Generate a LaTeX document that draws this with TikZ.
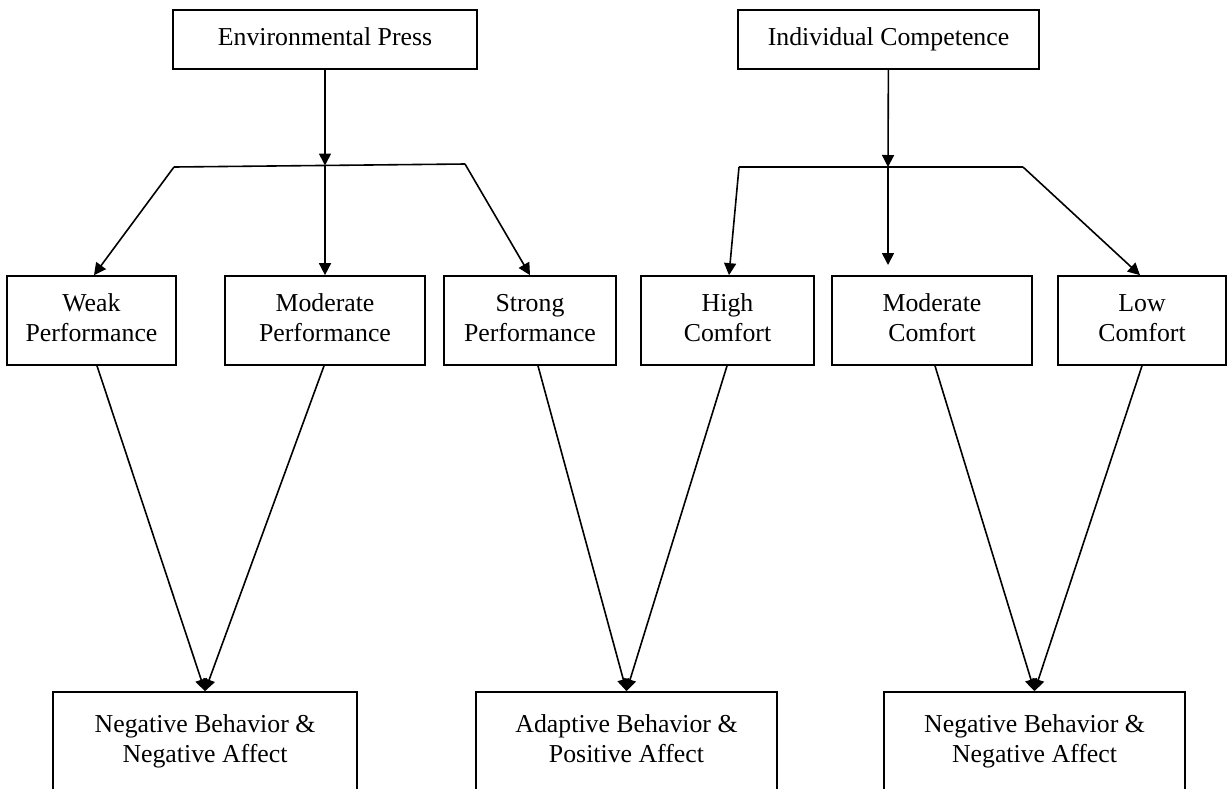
\documentclass[tikz,border=0pt]{standalone}
\usepackage{fontspec}
\setmainfont{Liberation Serif}
\usetikzlibrary{arrows.meta}
\newcommand{\bxline}[1]{\strut#1}
\begin{document}
\begin{tikzpicture}[x=1pt,y=-1pt,
  box/.style={draw, line width=1.7pt, align=center, inner sep=0pt,
              font=\fontsize{25.8}{30}\selectfont},
  headbox/.style={box, minimum height=59pt},
  rowbox/.style={box, minimum height=89pt},
  outbox/.style={box, minimum height=98pt},
  link/.style={line width=1.6pt},
  arr/.style={link, -{Triangle[length=12pt,width=12pt]}}]
\useasboundingbox (0,0) rectangle (1231,788);

% sources
\node[headbox, minimum width=304pt] (env) at (325,39.5) {\bxline{Environmental Press}};
\node[headbox, minimum width=301pt] (ind) at (888.5,39.5) {\bxline{Individual Competence}};

% middle row
\node[rowbox, minimum width=169pt] (weak)   at (91.5,320.5)  {\bxline{Weak}\\\bxline{Performance}};
\node[rowbox, minimum width=200pt] (modp)   at (325,320.5)   {\bxline{Moderate}\\\bxline{Performance}};
\node[rowbox, minimum width=172pt] (strong) at (530,320.5)   {\bxline{Strong}\\\bxline{Performance}};
\node[rowbox, minimum width=173pt] (high)   at (727.5,320.5) {\bxline{High}\\\bxline{Comfort}};
\node[rowbox, minimum width=200pt] (modc)   at (932,320.5)   {\bxline{Moderate}\\\bxline{Comfort}};
\node[rowbox, minimum width=168pt] (low)    at (1142,320.5)  {\bxline{Low}\\\bxline{Comfort}};

% outcomes
\node[outbox, minimum width=304pt] (negA)  at (205,741)    {\bxline{Negative Behavior \&}\\\bxline{Negative Affect}};
\node[outbox, minimum width=301pt] (adapt) at (626.5,741)  {\bxline{Adaptive Behavior \&}\\\bxline{Positive Affect}};
\node[outbox, minimum width=301pt] (negB)  at (1034.5,741) {\bxline{Negative Behavior \&}\\\bxline{Negative Affect}};

% branching bars
\coordinate (pl) at (174,167);
\coordinate (pm) at (325,165.5);
\coordinate (pr) at (465,164);
\coordinate (cl) at (739,167);
\coordinate (cm) at (888,167);
\coordinate (cr) at (1023,167);
\coordinate (cgap) at (888,265);

\draw[link] (pl) -- (pr);
\draw[arr] (env) -- (pm);
\draw[arr] (pm) -- (modp);
\draw[arr] (pl) -- (94,0 |- weak.north);
\draw[arr] (pr) -- (strong.north);

\draw[link] (cl) -- (cr);
\draw[arr] (ind) -- (cm);
\draw[arr] (cm) -- (cgap);
\draw[arr] (cl) -- (729,0 |- high.north);
\draw[arr] (cr) -- (1140,0 |- low.north);

% converging arrows
\draw[arr] (97,0 |- weak.south)    -- (negA.north);
\draw[arr] (324,0 |- modp.south)   -- (negA.north);
\draw[arr] (538,0 |- strong.south) -- (adapt.north);
\draw[arr] (727,0 |- high.south)   -- (adapt.north);
\draw[arr] (935,0 |- modc.south)   -- (negB.north);
\draw[arr] (1142,0 |- low.south)   -- (negB.north);
\end{tikzpicture}
\end{document}
